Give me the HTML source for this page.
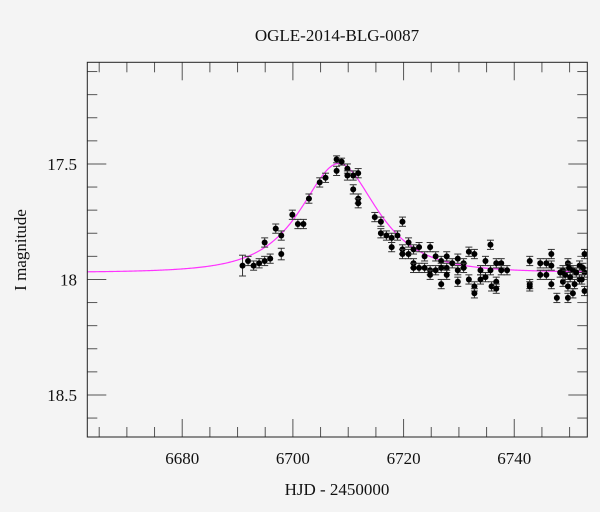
<!DOCTYPE html>
<html><head><meta charset="utf-8"><style>
html,body{margin:0;padding:0;background:#f4f4f4;overflow:hidden;}
svg{display:block;}
text{font-family:"Liberation Serif","DejaVu Serif",serif;}
</style></head><body>
<svg id="chart" width="600" height="512" viewBox="0 0 600 512" font-family="Liberation Serif, DejaVu Serif, serif">
<rect x="0" y="0" width="600" height="512" fill="#f4f4f4"/>
<text x="337" y="41" text-anchor="middle" font-size="17" fill="#111" font-family="Liberation Serif, serif">OGLE-2014-BLG-0087</text>
<text x="337" y="495" text-anchor="middle" font-size="17" fill="#111" font-family="Liberation Serif, serif">HJD - 2450000</text>
<text transform="translate(26,250) rotate(-90)" text-anchor="middle" font-size="17" fill="#111" font-family="Liberation Serif, serif">I magnitude</text>
<g id="axes"></g>
<g id="curve"></g>
<g id="points"></g>
<rect x="87.3" y="62.3" width="500" height="374.7" fill="none" stroke="#222" stroke-width="1"/>
</svg>
<script>
const times = [6690.9,6691.9,6692.9,6693.9,6694.9,6695.9,6694.9,6696.9,6697.9,6697.9,6699.9,6700.9,6701.9,6702.9,6704.85,6705.9,6707.9,6707.9,6708.8,6709.85,6709.85,6710.9,6711.8,6710.9,6711.8,6711.8,6714.8,6715.9,6715.9,6716.9,6717.85,6717.85,6718.9,6719.8,6719.8,6719.8,6720.9,6720.9,6721.8,6721.8,6721.8,6722.8,6722.8,6723.8,6723.8,6724.8,6724.8,6724.8,6725.8,6725.8,6726.8,6726.8,6726.8,6727.8,6727.8,6727.8,6728.8,6729.8,6729.8,6729.8,6730.85,6730.85,6731.8,6731.8,6732.8,6732.8,6732.8,6733.9,6733.9,6734.8,6734.8,6735.7,6735.7,6735.9,6736.75,6736.75,6736.75,6737.65,6737.65,6738.7,6742.8,6742.8,6742.8,6744.7,6744.7,6745.8,6745.8,6746.7,6746.7,6746.7,6747.7,6748.8,6748.8,6749.7,6749.7,6749.7,6750.6,6750.6,6751.8,6751.8,6752.7,6752.7,6752.7,6749.2,6750.1,6751.2,6752.2,6748.3,6750.9,6752.4,6749.9];
const mags = [17.94,17.92,17.94,17.93,17.92,17.91,17.84,17.78,17.81,17.89,17.72,17.76,17.76,17.65,17.58,17.56,17.48,17.53,17.49,17.52,17.55,17.55,17.54,17.61,17.65,17.67,17.73,17.75,17.80,17.81,17.82,17.86,17.81,17.75,17.87,17.89,17.89,17.84,17.87,17.93,17.95,17.86,17.95,17.90,17.95,17.86,17.96,17.98,17.90,17.96,17.92,17.95,18.02,17.90,17.95,17.98,17.93,17.91,17.96,18.01,17.93,17.95,17.88,18.00,17.89,18.03,18.06,17.96,18.00,17.92,17.99,17.85,17.96,18.03,17.93,18.01,18.04,17.93,17.96,17.96,17.92,18.02,18.03,17.93,17.98,17.93,17.98,17.89,17.94,18.02,18.08,17.96,18.01,17.93,18.03,18.08,17.96,18.06,17.94,18.00,17.89,17.97,18.05,17.98,17.99,17.97,18.00,17.97,18.02,17.95,17.95];
const errors = [0.045,0.02,0.02,0.02,0.02,0.02,0.02,0.02,0.02,0.025,0.02,0.02,0.02,0.02,0.02,0.02,0.015,0.02,0.015,0.02,0.02,0.02,0.02,0.02,0.02,0.02,0.02,0.02,0.02,0.02,0.02,0.02,0.02,0.02,0.02,0.02,0.02,0.02,0.02,0.02,0.02,0.02,0.02,0.02,0.02,0.02,0.02,0.02,0.02,0.02,0.02,0.02,0.02,0.02,0.02,0.02,0.02,0.02,0.02,0.02,0.02,0.02,0.02,0.02,0.02,0.02,0.02,0.02,0.02,0.02,0.02,0.02,0.02,0.02,0.02,0.02,0.02,0.02,0.02,0.02,0.02,0.02,0.02,0.02,0.02,0.02,0.02,0.02,0.02,0.02,0.02,0.02,0.02,0.02,0.02,0.02,0.02,0.02,0.02,0.02,0.02,0.02,0.02,0.02,0.02,0.02,0.02,0.02,0.02,0.02,0.02];
const xTickLabels = ["6680","6700","6720","6740"];
const yTickLabels = ["17.5","18","18.5"];
const modelT0 = 6708.3, modelU0 = 0.79, modelTE = 9.3, modelBase = 17.97;

const NS = "http://www.w3.org/2000/svg";
const X0 = 87.3, X1 = 587.3, Y0 = 62.3, Y1 = 437;
const tMin = 6662.85, tMax = 6753.2, mMin = 17.06, mMax = 18.682;
function xs(t){ return X0 + (t - tMin) / (tMax - tMin) * (X1 - X0); }
function ys(m){ return Y0 + (m - mMin) / (mMax - mMin) * (Y1 - Y0); }
function mk(tag, attrs, parent){ const e = document.createElementNS(NS, tag); for (const k in attrs) e.setAttribute(k, attrs[k]); parent.appendChild(e); return e; }

const axes = document.getElementById('axes');
for (let t = 6665; t <= 6750; t += 5) {
  const major = (t % 20 === 0);
  const len = major ? 18 : 10;
  const x = xs(t);
  const b = mk('line', {x1:x, y1:Y1, x2:x, y2:Y1-len, stroke:'#555', 'stroke-width':1}, axes);
  
  
  const tp = mk('line', {x1:x, y1:Y0, x2:x, y2:Y0+len, stroke:'#555', 'stroke-width':1}, axes);
  
  
}
xTickLabels.forEach(function(s){
  const tx = mk('text', {x:xs(parseFloat(s)), y:464, 'text-anchor':'middle', 'font-size':17, fill:'#111', 'font-family':'Liberation Serif, serif'}, axes);
  tx.textContent = s;
  
  
});
for (let i = 1; i <= 16; i++) {
  const m = 17 + i / 10;
  const major = (i % 5 === 0);
  const len = major ? 19 : 10;
  const y = ys(m);
  const l = mk('line', {x1:X0, y1:y, x2:X0+len, y2:y, stroke:'#555', 'stroke-width':1}, axes);
  
  
  const r = mk('line', {x1:X1, y1:y, x2:X1-len, y2:y, stroke:'#555', 'stroke-width':1}, axes);
  
  
}
yTickLabels.forEach(function(s){
  const ty = mk('text', {x:77, y:ys(parseFloat(s))+6, 'text-anchor':'end', 'font-size':17, fill:'#111', 'font-family':'Liberation Serif, serif'}, axes);
  ty.textContent = s;
  
  
});
function amp(u){ return (u*u+2)/(u*Math.sqrt(u*u+4)); }
let d = '';
for (let t = tMin; t <= tMax; t += 0.2) {
  const tau = (t - modelT0) / modelTE;
  const u = Math.sqrt(modelU0*modelU0 + tau*tau);
  const m = modelBase - 2.5*Math.log10(amp(u));
  d += (d ? 'L' : 'M') + xs(t).toFixed(2) + ' ' + ys(m).toFixed(2);
}
const curve = mk('path', {d:d, fill:'none', stroke:'#ff33ff', 'stroke-width':1.2}, document.getElementById('curve'));


const pts = document.getElementById('points');
times.forEach(function(t, i){
  const x = xs(t), y = ys(mags[i]);
  const e = errors[i];
  const ya = ys(mags[i]-e), yb = ys(mags[i]+e);
  const g = mk('g', {}, pts);
  
  
  mk('line', {x1:x, y1:ya, x2:x, y2:yb, stroke:'#333', 'stroke-width':1}, g);
  mk('line', {x1:x-3.5, y1:ya, x2:x+3.5, y2:ya, stroke:'#333', 'stroke-width':1}, g);
  mk('line', {x1:x-3.5, y1:yb, x2:x+3.5, y2:yb, stroke:'#333', 'stroke-width':1}, g);
  mk('circle', {cx:x, cy:y, r:3, fill:'#000'}, g);
});
</script>
</body></html>
